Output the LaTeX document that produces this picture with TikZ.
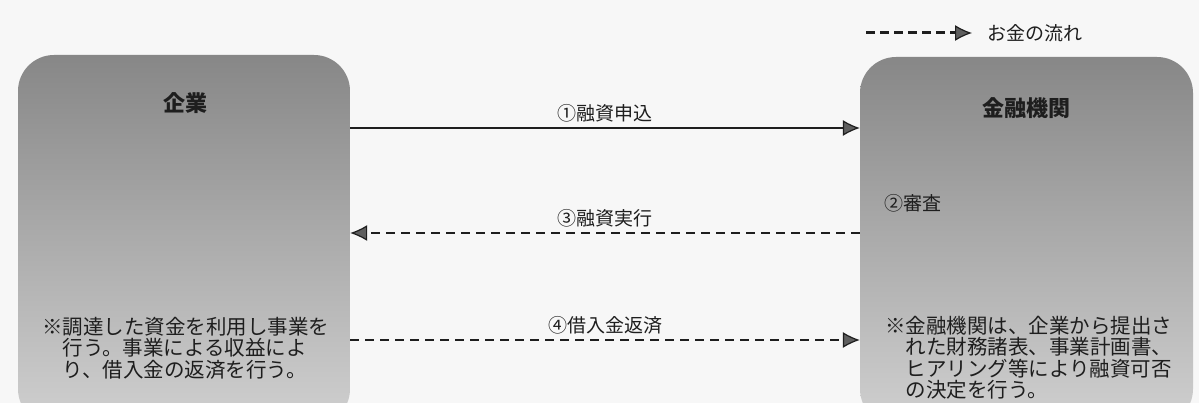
\documentclass[tikz,border=0pt]{standalone}
\usepackage{fontspec}
\setmainfont{Noto Sans CJK JP}
\usetikzlibrary{arrows.meta}
\definecolor{boxtop}{HTML}{878787}
\definecolor{boxbot}{HTML}{D0D0D0}
\definecolor{inkc}{HTML}{1E1E1E}
\definecolor{headc}{HTML}{5E5E5E}
\tikzset{
  party/.style={rectangle, rounded corners=36pt, top color=boxtop, bottom color=boxbot,
    draw=none, inner sep=0pt},
  title/.style={font=\fontsize{22}{24}\selectfont\bfseries, text=inkc, inner sep=1pt},
  lbl/.style={font=\fontsize{19}{21}\selectfont, text=inkc, inner sep=2pt},
  note/.style={font=\fontsize{20.5}{21.5}\selectfont, text=inkc, align=left, anchor=north west, inner sep=0pt},
  tip/.style={-{Latex[length=17pt,width=16pt,fill=headc,line width=1.2pt]}},
  flowsolid/.style={tip, draw=inkc, line width=2.6pt},
  flowdash/.style={tip, draw=inkc, line width=2pt, dash pattern=on 9pt off 6pt},
}
\begin{document}
\begin{tikzpicture}[x=1pt,y=-1pt]
\useasboundingbox (0,0) rectangle (1199,403);
\fill[black!3] (0,0) rectangle (1199,403);
% parties
\node[party, minimum width=332pt, minimum height=370pt] (kigyo) at (184,240) {};
\node[party, minimum width=333pt, minimum height=368pt] (kinyu) at (1026.5,241) {};
\node[title] (tk) at (185,103) {企業};
\node[title] (tb) at (1026,108) {金融機関};
\node[lbl, anchor=west] (shinsa) at (882,203) {②審査};
% notes
\node[note] (nk) at (42,317) {※調達した資金を利用し事業を\\\hspace{1em}行う。事業による収益によ\\\hspace{1em}り、借入金の返済を行う。};
\node[note] (nb) at (885,316) {※金融機関は、企業から提出さ\\\hspace{1em}れた財務諸表、事業計画書、\\\hspace{1em}ヒアリング等により融資可否\\\hspace{1em}の決定を行う。};
% flows
\draw[flowsolid] (kigyo.east |- 0,128) -- node[lbl, above=3pt] (l1) {①融資申込} (kinyu.west |- 0,128);
\draw[flowdash] (kinyu.west |- 0,233) -- node[lbl, above=3pt] (l3) {③融資実行} (kigyo.east |- 0,233);
\draw[flowdash] (kigyo.east |- 0,340) -- node[lbl, above=3pt] (l4) {④借入金返済} (kinyu.west |- 0,340);
% legend
\coordinate (lgs) at (866,33);
\node[lbl, anchor=west] (lgt) at (985,33) {お金の流れ};
\draw[tip, draw=inkc, line width=3pt, dash pattern=on 9pt off 5pt] (lgs) -- ([xshift=-13pt]lgt.west);
\end{tikzpicture}
\end{document}
